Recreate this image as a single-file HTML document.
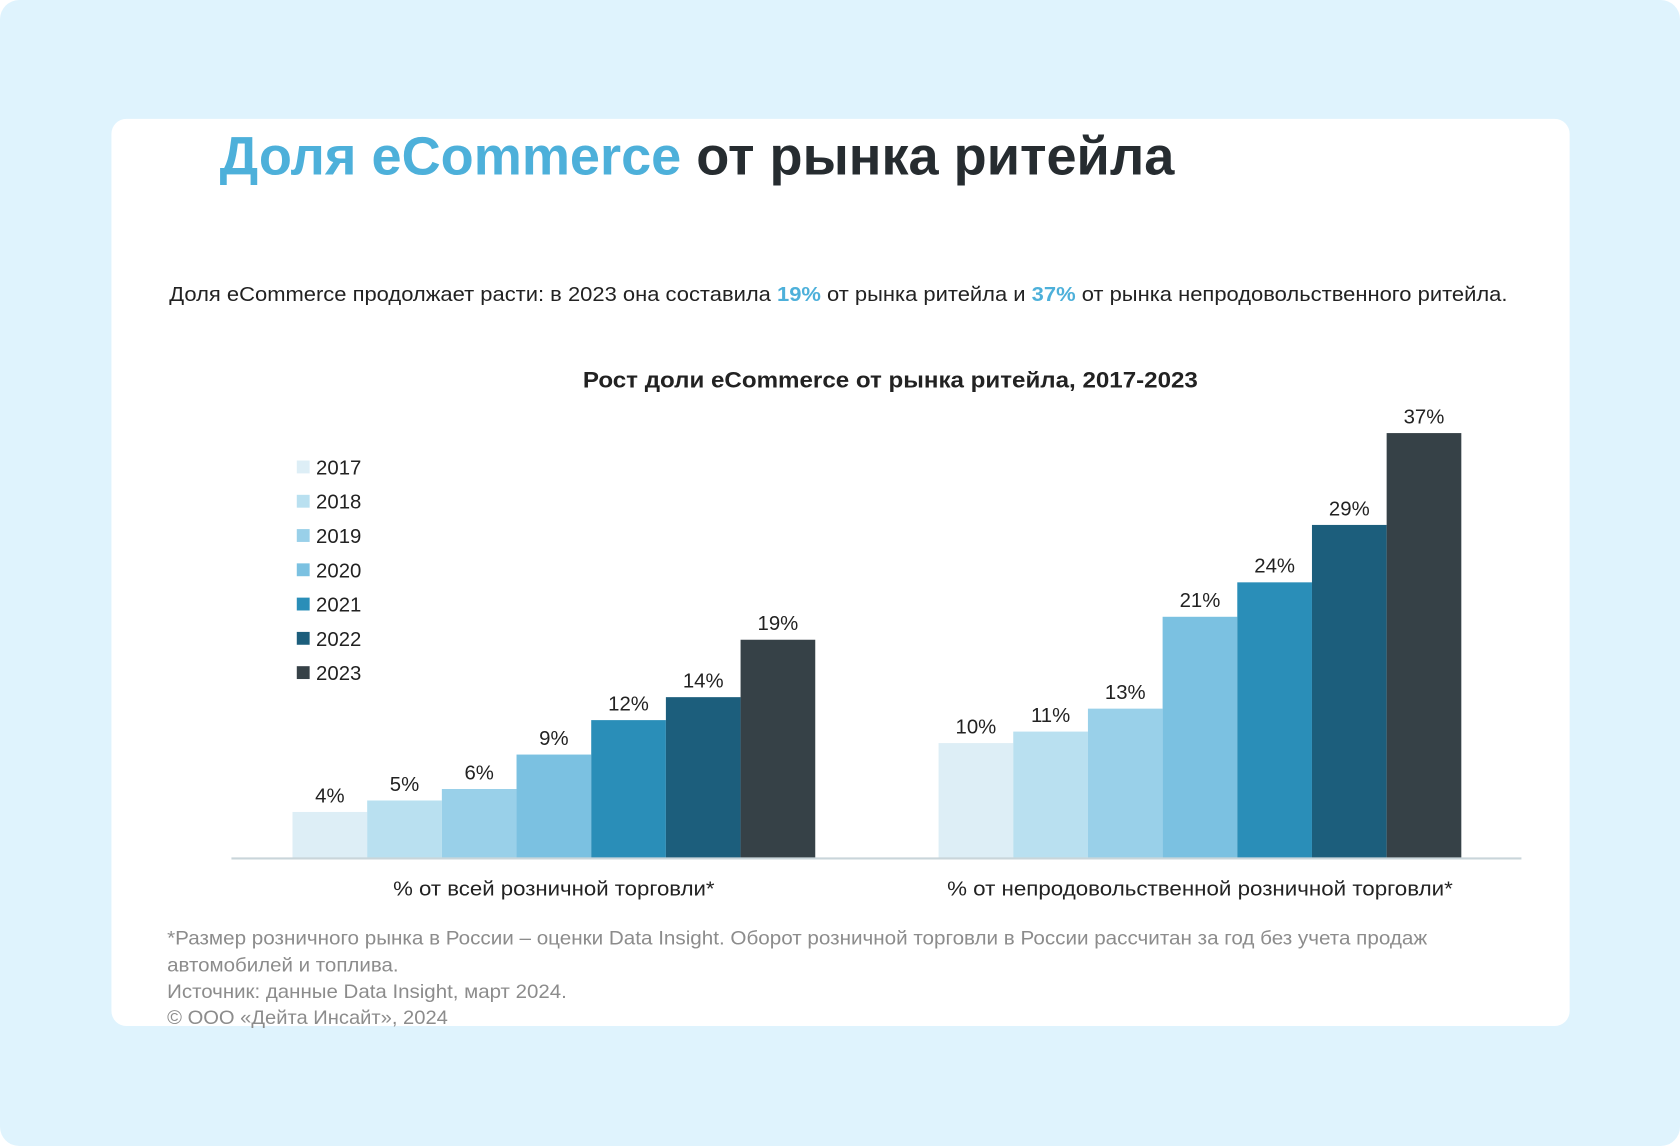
<!DOCTYPE html>
<html><head><meta charset="utf-8"><style>
html,body{margin:0;padding:0;width:1680px;height:1146px;overflow:hidden;background:#fff;}
svg{display:block;font-family:"Liberation Sans","DejaVu Sans",sans-serif;}
</style></head><body>
<svg id="chart" width="1680" height="1146" viewBox="0 0 1568 1070" preserveAspectRatio="none" xmlns="http://www.w3.org/2000/svg">
<rect x="0" y="0" width="1568" height="1070" rx="18" fill="#dff3fd"/>
<rect x="104" y="111" width="1361" height="847" rx="14" fill="#ffffff"/>
<text x="205" y="163" font-size="50" font-weight="bold" textLength="891" lengthAdjust="spacingAndGlyphs"><tspan fill="#4db0da">Доля eCommerce</tspan><tspan fill="#262c30"> от рынка ритейла</tspan></text>
<text x="158" y="281" font-size="19" fill="#222" textLength="1249" lengthAdjust="spacingAndGlyphs">Доля eCommerce продолжает расти: в 2023 она составила <tspan fill="#4db0da" font-weight="bold">19%</tspan> от рынка ритейла и <tspan fill="#4db0da" font-weight="bold">37%</tspan> от рынка непродовольственного ритейла.</text>
<text x="831" y="362" font-size="21" font-weight="bold" fill="#222" text-anchor="middle" textLength="574" lengthAdjust="spacingAndGlyphs">Рост доли eCommerce от рынка ритейла, 2017-2023</text>
<g id="legend"></g>
<g id="bars"></g>
<line x1="216" y1="801.5" x2="1420" y2="801.5" stroke="#c9d5da" stroke-width="2"/>
<g id="cats"></g>
<g font-size="18" fill="#8c8c8c">
<text x="156" y="882" textLength="1176" lengthAdjust="spacingAndGlyphs">*Размер розничного рынка в России – оценки Data Insight. Оборот розничной торговли в России рассчитан за год без учета продаж</text>
<text x="156" y="907" textLength="216" lengthAdjust="spacingAndGlyphs">автомобилей и топлива.</text>
<text x="156" y="932" textLength="373" lengthAdjust="spacingAndGlyphs">Источник: данные Data Insight, март 2024.</text>
<text x="156" y="956" textLength="262" lengthAdjust="spacingAndGlyphs">© ООО «Дейта Инсайт», 2024</text>
</g>
</svg>
<script>
const years = ["2017","2018","2019","2020","2021","2022","2023"];
const categories = ["% от всей розничной торговли*","% от непродовольственной розничной торговли*"];
const retailShare = [4,5,6,9,12,14,19];
const nonFoodShare = [10,11,13,21,24,29,37];
const colors = ["#ddeef6","#b9e0f0","#99d0e9","#7bc1e1","#2a8eb8","#1c5e7c","#364147"];
const NS="http://www.w3.org/2000/svg";
const baseY=801, pxPerPct=10.72, barW=69.7;
const groupStart=[273,876];
const catLen=[300,472];
function yScale(v){return baseY - v*pxPerPct;}
function xScale(g,i){return groupStart[g]+i*barW;}
const barsG=document.getElementById('bars');
[retailShare,nonFoodShare].forEach((series,g)=>{
  series.forEach((v,i)=>{
    const r=document.createElementNS(NS,'rect');
    r.setAttribute('x',xScale(g,i));r.setAttribute('y',yScale(v));
    r.setAttribute('width',barW);r.setAttribute('height',baseY-yScale(v));
    r.setAttribute('fill',colors[i]);
    
    
    barsG.appendChild(r);
    const t=document.createElementNS(NS,'text');
    t.setAttribute('x',xScale(g,i)+barW/2);t.setAttribute('y',yScale(v)-9);
    t.setAttribute('text-anchor','middle');t.setAttribute('font-size','19');t.setAttribute('fill','#222');
    t.textContent=v+'%';
    
    
    barsG.appendChild(t);
  });
});
const cg=document.getElementById('cats');
categories.forEach((c,g)=>{
  const t=document.createElementNS(NS,'text');
  t.setAttribute('x',xScale(g,0)+barW*3.5);t.setAttribute('y',836);
  t.setAttribute('text-anchor','middle');t.setAttribute('font-size','19');t.setAttribute('fill','#222');
  t.setAttribute('textLength',catLen[g]);t.setAttribute('lengthAdjust','spacingAndGlyphs');
  t.textContent=c;
  
  
  cg.appendChild(t);
});
const lg=document.getElementById('legend');
years.forEach((y,i)=>{
  const r=document.createElementNS(NS,'rect');
  r.setAttribute('x',277);r.setAttribute('y',430+i*32);r.setAttribute('width',12);r.setAttribute('height',12);
  r.setAttribute('fill',colors[i]);
  
  
  lg.appendChild(r);
  const t=document.createElementNS(NS,'text');
  t.setAttribute('x',295);t.setAttribute('y',443+i*32);t.setAttribute('font-size','19');t.setAttribute('fill','#222');
  t.textContent=y;
  
  
  lg.appendChild(t);
});
</script>
</body></html>
